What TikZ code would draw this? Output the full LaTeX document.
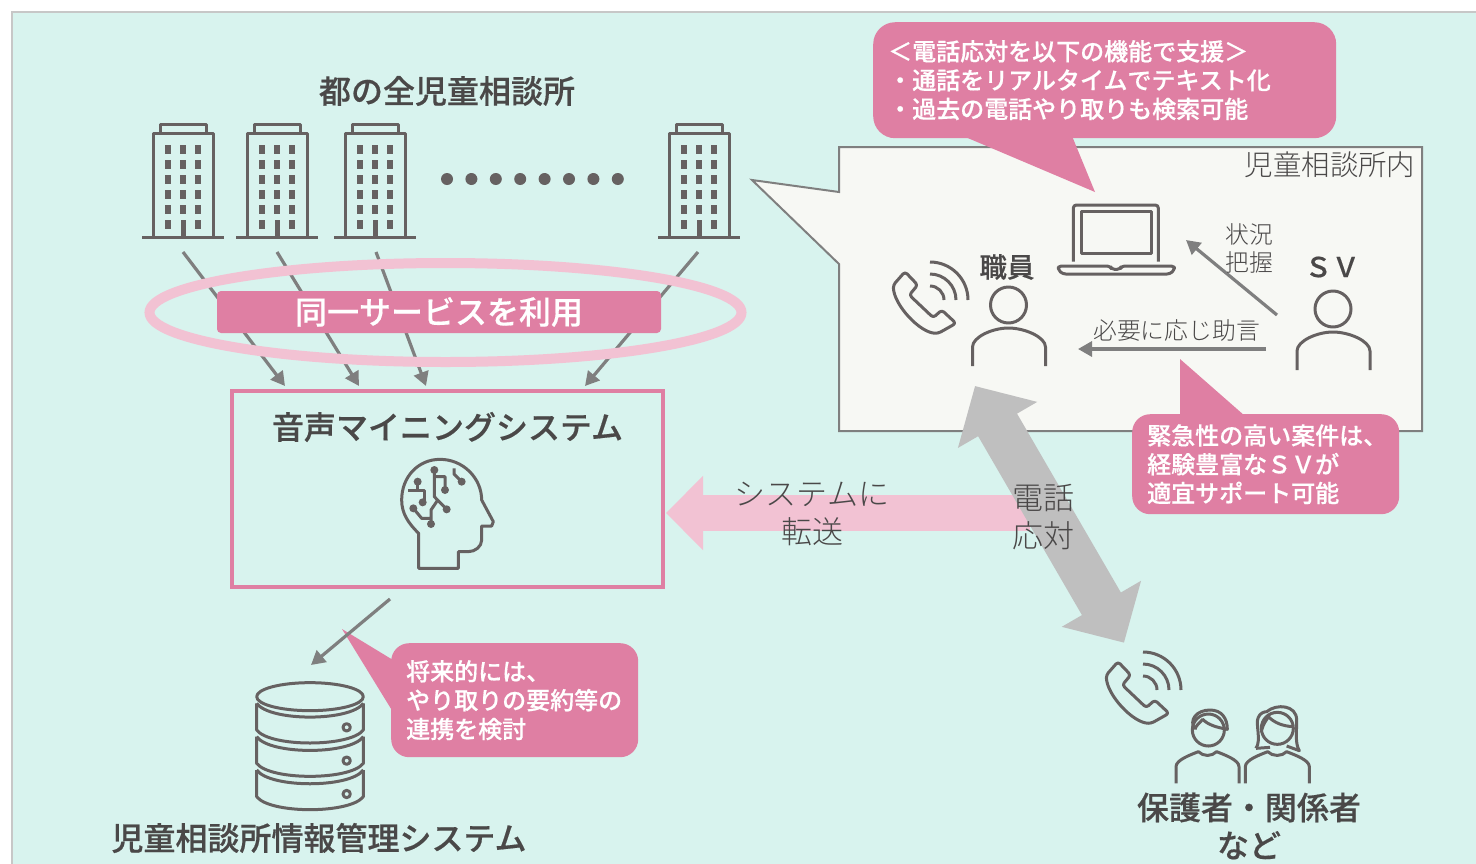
\documentclass[tikz,border=0pt]{standalone}
\usepackage{fontspec}
\setmainfont{Noto Sans CJK JP}[BoldFont={Noto Sans CJK JP Medium},BoldFeatures={FakeBold=0.5}]
\newfontfamily\lightfont{Noto Sans CJK JP Light}
\usepackage{xcolor}
\usetikzlibrary{arrows.meta,shapes.geometric}
\definecolor{mintbg}{HTML}{D8F3EE}
\definecolor{paperbg}{HTML}{F7F8F4}
\definecolor{rosepink}{HTML}{DF7FA3}
\definecolor{lightrose}{HTML}{F2C2D3}
\definecolor{iconcol}{HTML}{666161}
\definecolor{textcol}{HTML}{4A4848}
\definecolor{arrowcol}{HTML}{7F7F7F}
\definecolor{wirecol}{HTML}{BFBFBF}
\tikzstyle{icon}=[draw=iconcol, line width=3pt, line join=round]
\tikzstyle{icon fill}=[fill=iconcol, draw=none]
\tikzstyle{head label}=[text=textcol, font=\fontsize{32}{38}\selectfont\bfseries, align=center]
\tikzstyle{thin label}=[text=textcol, font=\fontsize{31}{38}\selectfont\lightfont, align=center]
\tikzstyle{small label}=[text=textcol, font=\fontsize{23.8}{28}\selectfont\lightfont, align=center]
\tikzstyle{callout}=[fill=rosepink, text=white, rounded corners=18pt, align=left, anchor=north west, inner xsep=15pt, inner ysep=0pt, font=\fontsize{24}{28.8}\selectfont\bfseries]
\tikzstyle{pointer}=[fill=rosepink, draw=none]
\tikzstyle{grey edge}=[-{Triangle[length=14pt,width=15pt]}, draw=arrowcol, line width=3.2pt]
\tikzstyle{band edge}=[line width=36pt, draw=lightrose, -{Triangle[length=37pt,width=72pt]}]
\tikzstyle{wire edge}=[line width=45pt, draw=wirecol, {Triangle[length=45pt,width=89pt]}-{Triangle[length=45pt,width=89pt]}]
\pgfdeclarelayer{backlayer}
\pgfdeclarelayer{edgelayer}
\pgfdeclarelayer{nodelayer}
\pgfsetlayers{backlayer,edgelayer,main,nodelayer}
\tikzset{
	building/.pic={
		\draw [style=icon] (-41,0) -- (41,0);
		\draw [style=icon] (-30,0) -- (-30,-104) -- (30,-104) -- (30,0);
		\draw [style=icon] (-23,-104) -- (-23,-113) -- (23,-113) -- (23,-104);
		\foreach \x in {-15,0,15}
			\foreach \y in {-88,-73,-58,-43,-28}
				\fill [style=icon fill] (\x-3,\y-4.5) rectangle (\x+3,\y+4.5);
		\fill [style=icon fill] (-18,-17.5) rectangle (-12,-8.5);
		\fill [style=icon fill] (12,-17.5) rectangle (18,-8.5);
		\fill [style=icon fill] (-2.5,-17) rectangle (2.5,0);
	},
	phone/.pic={
		\draw [style=icon, rounded corners=3pt] (-25,-28.3) -- (-36.7,-15) .. controls (-36,5) and (-10,33) .. (8.3,33.3) -- (26,23.3) -- (11.7,10) -- (3.3,17.7) -- (-20.7,-5) -- (-12.3,-15) -- cycle;
		\draw [style=icon] (0,-38) arc (-90:0:38);
		\draw [style=icon] (0,-26) arc (-90:0:26);
		\draw [style=icon] (0,-14) arc (-90:0:14);
	},
	person/.pic={
		\draw [style=icon] (0,0) circle (18);
		\draw [style=icon] (-36,61) -- (-36,42) .. controls (-36,32) and (-16,23) .. (0,23) .. controls (16,23) and (37,32) .. (37,42) -- (37,61);
	}
}

\begin{document}
\begin{tikzpicture}[x=1pt, y=-1pt]
	\useasboundingbox (0,0) rectangle (1476,863);
	\begin{pgfonlayer}{backlayer}
		\fill [fill=white] (0,0) rectangle (1476,863);
		\draw [fill=mintbg, draw=black!22, line width=1.5pt] (12,12) rectangle (1490,880);
	\end{pgfonlayer}

	\begin{pgfonlayer}{edgelayer}
		% speech balloon
		\draw [fill=paperbg, draw=arrowcol, line width=2pt] (839,147) -- (1422,147) -- (1422,431) -- (839,431) -- (839,264) -- (752,180) -- (839,192) -- cycle;
		% pointers of the callouts
		\fill [style=pointer] (963,136) -- (1095,192) -- (1072,136) -- cycle;
		\fill [style=pointer] (1180,416) -- (1180,359) -- (1245,416) -- cycle;
		\fill [style=pointer] (393,660) -- (342,629) -- (393,712) -- cycle;
		% arrows
		\coordinate (b1) at (183,252);
		\coordinate (b2) at (277,252);
		\coordinate (b3) at (376,252);
		\coordinate (b4) at (698,252);
		\coordinate (s1) at (285,386);
		\coordinate (s2) at (359,386);
		\coordinate (s3) at (426,386);
		\coordinate (s4) at (585,386);
		\draw [style=grey edge] (b1) -- (s1);
		\draw [style=grey edge] (b2) -- (s2);
		\draw [style=grey edge] (b3) -- (s3);
		\draw [style=grey edge] (b4) -- (s4);
		\coordinate (sysout) at (390,599);
		\coordinate (dbin) at (311,665);
		\draw [style=grey edge] (sysout) -- (dbin);
		\coordinate (svout) at (1277,315);
		\coordinate (pcin) at (1186,240);
		\draw [style=grey edge] (svout) -- (pcin);
		\coordinate (svout2) at (1266,349);
		\coordinate (staffin) at (1078,349);
		\draw [style=grey edge] (svout2) -- (staffin);
		\coordinate (wireend) at (1030,513);
		\coordinate (sysin) at (666,513);
		\draw [style=band edge] (wireend) -- (sysin);
		\coordinate (staffend) at (975,386);
		\coordinate (parentend) at (1124,642.7);
		\draw [style=wire edge] (staffend) -- (parentend);
	\end{pgfonlayer}

	\begin{pgfonlayer}{nodelayer}
		\node [style=head label] (title) at (447,91) {都の全児童相談所};
		\node [ellipse, draw=lightrose, line width=10pt, minimum width=592pt, minimum height=99pt, inner sep=0pt] (ring) at (445.5,312.5) {};
		\node [fill=rosepink, text=white, rounded corners=4pt, minimum width=444pt, minimum height=42pt, inner sep=0pt, font=\fontsize{32}{38}\selectfont\bfseries] (band) at (439,312) {\raisebox{2pt}{同一サービスを利用}};
		\node [draw=rosepink, line width=3.5pt, minimum width=431pt, minimum height=196pt, inner sep=0pt] (sys) at (447.5,489) {};
		\node [style=head label] (systitle) at (447.5,427) {音声マイニングシステム};
		\node [style=head label] (dbname) at (319,838) {児童相談所情報管理システム};
		\node [style=thin label] (relay) at (812,514) {システムに\\転送};
		\node [style=thin label] (answer) at (1043,517) {電話\\応対};
		\node [text=textcol, font=\fontsize{28.4}{34}\selectfont\lightfont] (inside) at (1330,165) {児童相談所内};
		\node [text=textcol, font=\fontsize{27.5}{34}\selectfont\bfseries] (staff) at (1007,267) {職員};
		\node [text=textcol, font=\fontsize{27.5}{34}\selectfont\bfseries] (sv) at (1332,267) {ＳＶ};
		\node [style=small label] (grasp) at (1249,248) {状況\\把握};
		\node [style=small label] (advice) at (1176.5,330) {必要に応じ助言};
		\node [style=head label] (parents) at (1249,826) {保護者・関係者\\など};
		\node [style=callout, minimum width=463pt, minimum height=116pt, text width=433pt, rounded corners=22pt] (topnote) at (873,22) {＜電話応対を以下の機能で支援＞\\・通話をリアルタイムでテキスト化\\・過去の電話やり取りも検索可能};
		\node [style=callout, minimum width=267pt, minimum height=100pt, text width=237pt] (svnote) at (1132,414) {緊急性の高い案件は、\\経験豊富なＳＶが\\適宜サポート可能};
		\node [style=callout, minimum width=247pt, minimum height=114pt, text width=217pt] (dbnote) at (391,643) {将来的には、\\やり取りの要約等の\\連携を検討};
	\end{pgfonlayer}

	% buildings
	\foreach \x in {183,277,375,699}
		\pic at (\x,237) {building};
	\foreach \i in {0,...,7}
		\fill [style=icon fill] ({447+24.4*\i},179) circle (6pt);

	% brain
	\begin{scope}[shift={(380,450)}, scale=1/3]
		\draw [style=icon] (116,355) -- (116,250) .. controls (85,220) and (65,190) .. (65,150) .. controls (65,80) and (115,28) .. (180,28) .. controls (250,28) and (305,85) .. (305,150) -- (340,215) -- (335,228) -- (305,228) -- (305,270) .. controls (305,290) and (285,305) .. (265,305) -- (235,305) -- (235,355) -- cycle;
		\draw [style=icon] (113,95) -- (113,122) (85,122) -- (133,122) -- (133,157);
		\draw [style=icon] (163,60) -- (163,140) -- (200,178) (163,80) -- (195,80) -- (195,120);
		\draw [style=icon] (172,152) -- (153,180) -- (153,222) (100,175) -- (125,205) -- (153,205);
		\draw [style=icon] (222,55) -- (222,72) -- (245,95);
		\foreach \p in {(113,95),(163,60),(195,120),(245,95),(128,157),(100,175),(200,178),(153,222)}
			\fill [style=icon fill] \p circle (12);
	\end{scope}

	% database
	\begin{scope}[shift={(240,670)}, scale=1/3]
		\draw [style=icon] (210,80) ellipse (160 and 42);
		\foreach \t in {0,100,200} {
			\draw [style=icon] (50,100+\t) .. controls (90,155+\t) and (330,155+\t) .. (370,100+\t);
			\draw [style=icon] (370,100+\t) -- (370,180+\t) .. controls (330,232+\t) and (90,232+\t) .. (50,180+\t) -- (50,100+\t);
			\draw [style=icon] (320,172+\t) circle (11);
		}
	\end{scope}

	% laptop
	\begin{scope}[shift={(880,190)}, scale=1/3]
		\draw [style=icon, rounded corners=3pt] (580,215) -- (580,45) -- (835,45) -- (835,215);
		\draw [style=icon] (605,65) rectangle (813,190);
		\draw [style=icon, rounded corners=3pt] (535,228) -- (690,228) -- (695,238) -- (720,238) -- (725,228) -- (883,228) -- (883,240) -- (870,252) -- (548,252) -- (535,240) -- cycle;
	\end{scope}

	\pic at (930,300) {phone};
	\pic at (1143,690) {phone};
	\pic at (1008.5,305) {person};
	\pic at (1333,309) {person};

	% parents
	\begin{scope}[shift={(1090,640)}, scale=1/3]
		\draw [style=icon] (355,270) circle (48);
		\draw [style=icon] (315,268) .. controls (295,240) and (320,210) .. (360,210) .. controls (395,210) and (412,235) .. (412,268) .. controls (380,262) and (355,255) .. (338,238) .. controls (330,248) and (318,255) .. (315,268);
		\draw [style=icon] (258,430) -- (258,380) .. controls (258,360) and (300,345) .. (325,335) .. controls (340,350) and (365,350) .. (380,335) .. controls (405,345) and (447,360) .. (447,380) -- (447,430);
		\draw [style=icon] (562,265) circle (48);
		\draw [style=icon] (515,270) .. controls (520,250) and (530,240) .. (535,230) .. controls (555,250) and (580,258) .. (608,260);
		\draw [style=icon] (498,325) .. controls (515,300) and (495,250) .. (505,232) .. controls (510,218) and (525,215) .. (530,215) .. controls (560,190) and (620,195) .. (620,240) .. controls (620,280) and (615,310) .. (628,332) -- (590,318);
		\draw [style=icon] (498,325) -- (540,322);
		\draw [style=icon] (466,430) -- (466,380) .. controls (466,360) and (508,345) .. (533,335) .. controls (548,350) and (575,350) .. (590,335) .. controls (615,345) and (658,360) .. (658,380) -- (658,430);
	\end{scope}
\end{tikzpicture}
\end{document}
